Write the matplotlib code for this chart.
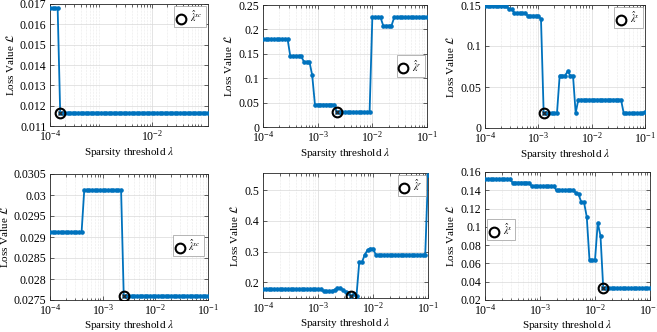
import numpy as np
import matplotlib
matplotlib.use('Agg')
import matplotlib.pyplot as plt
from matplotlib.ticker import LogLocator, NullFormatter

plt.rcParams['font.family'] = ['Liberation Serif', 'DejaVu Serif']
plt.rcParams['mathtext.fontset'] = 'stix'

# sparsity-threshold sweep grids (20 values per decade)
lam_a = np.logspace(-4, -0.9, 63)
lam_b = np.logspace(-4, -1, 61)

# ---- loss values ----
loss_1 = [0.0168, 0.0168, 0.0168, 0.0168,
          0.01165, 0.01165, 0.01165, 0.01165, 0.01165, 0.01165, 0.01165, 0.01165, 0.01165, 0.01165,
          0.01165, 0.01165, 0.01165, 0.01165, 0.01165, 0.01165, 0.01165, 0.01165, 0.01165, 0.01165,
          0.01165, 0.01165, 0.01165, 0.01165, 0.01165, 0.01165, 0.01165, 0.01165, 0.01165, 0.01165,
          0.01165, 0.01165, 0.01165, 0.01165, 0.01165, 0.01165, 0.01165, 0.01165, 0.01165, 0.01165,
          0.01165, 0.01165, 0.01165, 0.01165, 0.01165, 0.01165, 0.01165, 0.01165, 0.01165, 0.01165,
          0.01165, 0.01165, 0.01165, 0.01165, 0.01165, 0.01165, 0.01165, 0.01165, 0.01165]

loss_2 = [0.180, 0.180, 0.180, 0.180, 0.180, 0.180, 0.180, 0.180, 0.180, 0.180,
          0.1445, 0.1445, 0.1445, 0.1445, 0.1445,
          0.1335, 0.1335, 0.1335, 0.106,
          0.046, 0.046, 0.046, 0.046, 0.046, 0.046, 0.046, 0.046,
          0.031, 0.031, 0.031, 0.031, 0.031, 0.031, 0.031, 0.031, 0.031, 0.031, 0.031, 0.031, 0.031,
          0.2245, 0.2245, 0.2245, 0.2245,
          0.2075, 0.2075, 0.2075, 0.2075,
          0.2245, 0.2245, 0.2245, 0.2245, 0.2245, 0.2245, 0.2245, 0.2245, 0.2245, 0.2245, 0.2245,
          0.2245, 0.2245]

loss_3 = [0.149, 0.149, 0.149, 0.149, 0.149, 0.149, 0.149, 0.149, 0.149,
          0.145, 0.145,
          0.1405, 0.1405, 0.1405, 0.1405, 0.1405,
          0.137, 0.137, 0.137, 0.137, 0.137,
          0.1325,
          0.0183, 0.0183, 0.0183, 0.0183, 0.0183, 0.0183,
          0.064, 0.064, 0.064, 0.069, 0.064, 0.064,
          0.0183,
          0.0346, 0.0346, 0.0346, 0.0346, 0.0346, 0.0346, 0.0346, 0.0346, 0.0346, 0.0346,
          0.0346, 0.0346, 0.0346, 0.0346, 0.0346, 0.0346, 0.0346,
          0.0183, 0.0183, 0.0183, 0.0183, 0.0183, 0.0183, 0.0183, 0.0183,
          0.0200]

loss_4 = [0.02912, 0.02912, 0.02912, 0.02912, 0.02912, 0.02912, 0.02912, 0.02912, 0.02912,
          0.02912, 0.02912, 0.02912, 0.02912,
          0.03011, 0.03011, 0.03011, 0.03011, 0.03011, 0.03011, 0.03011, 0.03011, 0.03011,
          0.03011, 0.03011, 0.03011, 0.03011, 0.03011, 0.03011,
          0.02760, 0.02760, 0.02760, 0.02760, 0.02760, 0.02760, 0.02760, 0.02760, 0.02760,
          0.02760, 0.02760, 0.02760, 0.02760, 0.02760, 0.02760, 0.02760, 0.02760, 0.02760,
          0.02760, 0.02760, 0.02760, 0.02760, 0.02760, 0.02760, 0.02760, 0.02760, 0.02760,
          0.02760, 0.02760, 0.02760, 0.02760, 0.02760, 0.02760]

loss_5 = [0.1785, 0.1785, 0.1785, 0.1785, 0.1785, 0.1785, 0.1785, 0.1785, 0.1785, 0.1785,
          0.1785, 0.1785, 0.1785, 0.1785, 0.1785, 0.1785, 0.1785, 0.1785, 0.1785, 0.1785,
          0.1785, 0.1785,
          0.171, 0.171, 0.171, 0.171,
          0.176, 0.181, 0.180, 0.176, 0.168, 0.166,
          0.1545, 0.163, 0.157,
          0.266, 0.266, 0.290, 0.305, 0.310, 0.310,
          0.290, 0.290, 0.290, 0.290, 0.290, 0.290, 0.290, 0.290, 0.290, 0.290,
          0.290, 0.290, 0.290, 0.290, 0.290, 0.290, 0.290, 0.290, 0.290,
          0.550]

loss_6 = [0.1525, 0.1525, 0.1525, 0.1525, 0.1525, 0.1525, 0.1525, 0.1525, 0.1525, 0.1525,
          0.1485, 0.1485, 0.1485, 0.1485, 0.1485, 0.1485, 0.1485,
          0.1445, 0.1445, 0.1445, 0.1445, 0.1445, 0.1445, 0.1445, 0.1445, 0.1445,
          0.1398, 0.1398, 0.1398, 0.1398, 0.1398, 0.1398, 0.1398,
          0.1375, 0.136, 0.127, 0.127, 0.111,
          0.0635, 0.0635, 0.0635,
          0.1045, 0.090,
          0.0327, 0.0327, 0.0327, 0.0327, 0.0327, 0.0327, 0.0327, 0.0327, 0.0327, 0.0327,
          0.0327, 0.0327, 0.0327, 0.0327, 0.0327, 0.0327, 0.0327, 0.0327]

best_idx = [4, 27, 22, 28, 32, 43]
legend_labels = [r'$\hat{\lambda}^{xc}$', r'$\hat{\lambda}^{r}$', r'$\hat{\lambda}^{x}$',
                 r'$\hat{\lambda}^{xc}$', r'$\hat{\lambda}^{r}$', r'$\hat{\lambda}^{x}$']

yticks = [
    [0.011, 0.012, 0.013, 0.014, 0.015, 0.016, 0.017],
    [0, 0.05, 0.1, 0.15, 0.2, 0.25],
    [0, 0.05, 0.1, 0.15],
    [0.0275, 0.028, 0.0285, 0.029, 0.0295, 0.03, 0.0305],
    [0.2, 0.3, 0.4, 0.5],
    [0.02, 0.04, 0.06, 0.08, 0.1, 0.12, 0.14, 0.16],
]
yticklabels = [
    ['0.011', '0.012', '0.013', '0.014', '0.015', '0.016', '0.017'],
    ['0', '0.05', '0.1', '0.15', '0.2', '0.25'],
    ['0', '0.05', '0.1', '0.15'],
    ['0.0275', '0.028', '0.0285', '0.029', '0.0295', '0.03', '0.0305'],
    ['0.2', '0.3', '0.4', '0.5'],
    ['0.02', '0.04', '0.06', '0.08', '0.1', '0.12', '0.14', '0.16'],
]
xticks = [[1e-4, 1e-2], [1e-4, 1e-3, 1e-2, 1e-1], [1e-4, 1e-3, 1e-2, 1e-1],
          [1e-4, 1e-3, 1e-2, 1e-1], [1e-4, 1e-3, 1e-2, 1e-1], [1e-4, 1e-3, 1e-2, 1e-1]]

# ---- layout / style ----
W, H = 657, 332
boxes_px = [(50, 208, 4, 126), (263, 427, 5, 127), (485, 645, 5, 128),
            (50, 208, 174, 300), (263, 428, 173, 298), (485, 650, 172, 300)]
ylims = [(0.011, 0.017), (0, 0.25), (0, 0.15), (0.0275, 0.0305), (0.149, 0.556), (0.02, 0.16)]
xlims = [(1e-4, 10 ** -0.9), (1e-4, 1e-1), (1e-4, 1e-1), (1e-4, 1e-1), (1e-4, 1e-1), (1e-4, 1e-1)]
leg_pos = [('upper right', (0.985, 0.985)), ('center right', (0.985, 0.50)),
           ('upper right', (0.985, 0.985)), ('center right', (0.975, 0.43)),
           ('upper right', (0.985, 0.985)), ('center left', (0.012, 0.55))]
xlabel_pad = [1, 1, 1, -0.3, 0, -0.3]

blue = '#0072BD'
fig = plt.figure(figsize=(W / 100, H / 100), dpi=100)

lams = [lam_a, lam_b, lam_b, lam_b, lam_b, lam_b]
losses = [loss_1, loss_2, loss_3, loss_4, loss_5, loss_6]

for k in range(6):
    l, r, t, b = boxes_px[k]
    ax = fig.add_axes([l / W, 1 - b / H, (r - l) / W, (b - t) / H])
    x = lams[k]
    y = np.array(losses[k])
    ax.plot(x, y, '-', color=blue, lw=1.3, marker='o', ms=2.3, mfc=blue, mec=blue, zorder=3)
    i = best_idx[k]
    ax.plot(x[i], y[i], 'o', mfc='none', mec='k', ms=7, mew=1.5, label=legend_labels[k], zorder=5)
    ax.plot(x[i], y[i], 'x', color='#222222', ms=3.5, mew=0.9, zorder=6)
    ax.set_xscale('log')
    ax.set_xlim(*xlims[k])
    ax.set_ylim(*ylims[k])
    ax.set_xticks(xticks[k])
    ax.xaxis.set_minor_locator(LogLocator(base=10, subs=np.arange(2, 10), numticks=20))
    ax.xaxis.set_minor_formatter(NullFormatter())
    ax.set_yticks(yticks[k])
    ax.set_yticklabels(yticklabels[k])
    ax.tick_params(which='both', direction='in', top=True, right=True, labelsize=8.5,
                   color='#262626', width=0.5, pad=2.5)
    ax.tick_params(which='major', length=3)
    ax.tick_params(which='minor', length=1.8)
    ax.grid(True, which='major', color='#d9d9d9', lw=0.5)
    ax.grid(True, which='minor', axis='x', color='#d6d6d6', lw=0.4, ls=':')
    ax.set_axisbelow(True)
    for s in ax.spines.values():
        s.set_color('#262626')
        s.set_linewidth(0.6)
    ax.set_xlabel(r'Sparsity threshold $\lambda$', fontsize=8, labelpad=xlabel_pad[k])
    ax.set_ylabel(r'Loss Value $\mathcal{L}$', fontsize=8, labelpad=3)
    loc, anchor = leg_pos[k]
    leg = ax.legend(loc=loc, bbox_to_anchor=anchor, fontsize=7, frameon=True,
                    fancybox=False, edgecolor='#999999', framealpha=1,
                    handlelength=0.8, handletextpad=0.5, borderpad=0.3, borderaxespad=0.0)
    leg.get_frame().set_linewidth(0.5)

fig.savefig('out.png', dpi=100)
